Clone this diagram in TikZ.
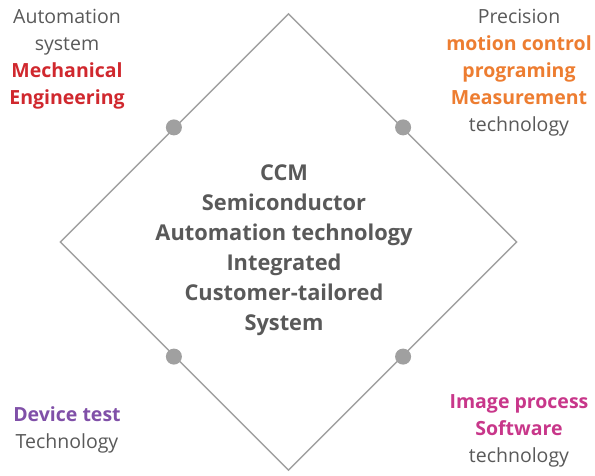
\documentclass[tikz,border=0pt]{standalone}
\usepackage{fontspec}
\setmainfont{Open Sans}
\usetikzlibrary{positioning,shapes.geometric,calc}
\definecolor{txtgray}{HTML}{595959}
\definecolor{linegray}{HTML}{A0A0A0}
\definecolor{mechred}{HTML}{D0282E}
\definecolor{motorange}{HTML}{ED7D31}
\definecolor{devpurple}{HTML}{8050A8}
\definecolor{imgpink}{HTML}{C8378A}

\begin{document}
\begin{tikzpicture}[x=1pt, y=1pt,
frame/.style={diamond, draw=linegray, line width=1.4pt, aspect=1, minimum width=457pt, minimum height=457pt, inner sep=0pt},
dot/.style={circle, fill=linegray, minimum size=16pt, inner sep=0pt},
corner/.style={align=center, text=txtgray, font=\fontsize{19.5}{27}\selectfont, inner sep=0pt},
core/.style={align=center, text=txtgray, font=\bfseries\fontsize{21.8}{30}\selectfont, inner sep=0pt}
]
\useasboundingbox (0,0) rectangle (595,475);
\node (frame) [frame] at (288.5,233) {};
\node (core) [core] at (284,225) {CCM\\Semiconductor\\Automation technology\\Integrated\\Customer-tailored\\System};

\node (dotNW) [dot] at ($(frame.north)!0.5!(frame.west)$) {};
\node (dotNE) [dot] at ($(frame.north)!0.5!(frame.east)$) {};
\node (dotSW) [dot] at ($(frame.south)!0.5!(frame.west)$) {};
\node (dotSE) [dot] at ($(frame.south)!0.5!(frame.east)$) {};

\node (mech) [corner, anchor=north] at (67,466) {Automation\\system\\\textcolor{mechred}{\bfseries Mechanical}\\\textcolor{mechred}{\bfseries Engineering}};
\node (motion) [corner, anchor=north] at (519,466) {Precision\\\textcolor{motorange}{\bfseries motion control}\\\textcolor{motorange}{\bfseries programing}\\\textcolor{motorange}{\bfseries Measurement}\\technology};
\node (device) [corner, anchor=north] at (67,69) {\textcolor{devpurple}{\bfseries Device test}\\Technology};
\node (image) [corner, anchor=north] at (519,81) {\textcolor{imgpink}{\bfseries Image process}\\\textcolor{imgpink}{\bfseries Software}\\technology};
\end{tikzpicture}
\end{document}
